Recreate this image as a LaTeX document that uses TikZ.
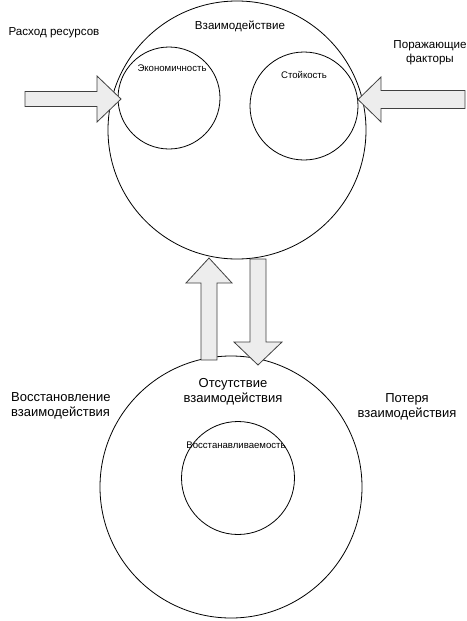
\documentclass[tikz,border=0pt]{standalone}
\usepackage{fontspec}
\setmainfont{Liberation Sans}
\begin{document}
\begin{tikzpicture}[x=1pt,y=-1pt,
  ring/.style={circle,draw=black,line width=0.8pt,inner sep=0pt},
  blockarrow/.style={draw=black!75,fill=black!7,line width=0.8pt,line join=miter},
  toplabel/.style={font=\fontsize{11.6}{14}\selectfont,align=center,inner sep=0pt},
  botlabel/.style={font=\fontsize{13}{15}\selectfont,align=center,inner sep=0pt},
  smalllabel/.style={font=\fontsize{9.6}{11}\selectfont,inner sep=0pt}]
\useasboundingbox (0,0) rectangle (466,621);
% circles
\node[ring,minimum size=258pt] (top) at (237,130) {};
\node[ring,minimum size=102pt] (econ) at (169,98) {};
\node[ring,minimum size=108pt] (stoik) at (304,106) {};
\node[ring,minimum size=262pt] (bottom) at (231,487) {};
\node[ring,minimum size=113pt] (vosst) at (238,478) {};
% labels
\node[toplabel] (rashod) at (54,33) {Расход ресурсов};
\node[toplabel] (vzaim) at (240,26) {Взаимодействие};
\node[toplabel] (porazh) at (430,53) {Поражающие\\факторы};
\node[smalllabel] (econt) at (172,68) {Экономичность};
\node[smalllabel] (stoikt) at (304,75) {Стойкость};
\node[botlabel] (otsut) at (233,392) {Отсутствие\\взаимодействия};
\node[botlabel,align=left,anchor=west] (vosstl) at (11,405.5) {Восстановление\\взаимодействия};
\node[botlabel] (poter) at (407,406.5) {Потеря\\взаимодействия};
\node[smalllabel] (vosstt) at (236,445) {Восстанавливаемость};
% block arrows
\filldraw[blockarrow] (25,91.5) -- (97,91.5) -- (97,76) -- (121,99) -- (97,122) -- (97,106.5) -- (25,106.5) -- cycle;
\filldraw[blockarrow] (465,90.5) -- (381,90.5) -- (381,77) -- (358,99.5) -- (381,122) -- (381,108.5) -- (465,108.5) -- cycle;
\filldraw[blockarrow] (201,360) -- (201,283) -- (186,283) -- (209,258) -- (232,283) -- (217,283) -- (217,360) -- cycle;
\filldraw[blockarrow] (250,259) -- (250,342) -- (234,342) -- (258,365) -- (282,342) -- (266,342) -- (266,259) -- cycle;
\end{tikzpicture}
\end{document}
